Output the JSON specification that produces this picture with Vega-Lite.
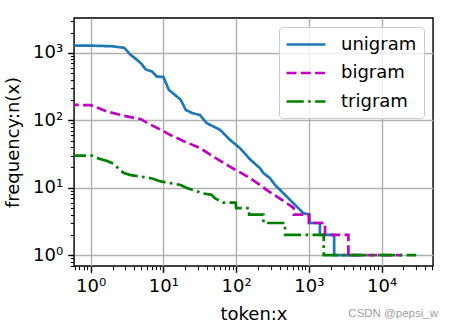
{
  "$schema": "https://vega.github.io/schema/vega-lite/v6.json",
  "width": 359,
  "height": 248,
  "autosize": {"type": "none"},
  "padding": {"left": 74, "top": 18, "right": 21, "bottom": 62},
  "background": "white",
  "title": {"text": "CSDN @pepsi_w", "orient": "bottom", "anchor": "end", "font": "Liberation Sans", "fontSize": 11.5, "fontWeight": "normal", "color": "#a0a0a0", "offset": -15, "dx": 5},
  "config": {
    "view": {"stroke": "black", "strokeWidth": 1.44},
    "font": "DejaVu Sans",
    "axis": {
      "domain": false,
      "labelFont": "DejaVu Sans",
      "labelFontSize": 18,
      "labelColor": "black",
      "tickColor": "black",
      "titleFont": "DejaVu Sans",
      "titleFontSize": 18,
      "titleFontWeight": "normal",
      "titleColor": "black",
      "gridColor": "#b0b0b0",
      "gridWidth": 1.44,
      "gridOpacity": 1,
      "labelOverlap": false,
      "labelFlush": false
    },
    "legend": {
      "orient": "top-right",
      "offset": 9,
      "fillColor": "rgba(255,255,255,0.8)",
      "strokeColor": "#cccccc",
      "strokeWidth": 1,
      "cornerRadius": 3.6,
      "padding": 7,
      "labelFont": "DejaVu Sans",
      "labelFontSize": 18,
      "labelColor": "black",
      "symbolType": "M-1.11,0H3.22",
      "symbolSize": 324,
      "symbolStrokeWidth": 2.7,
      "labelOffset": 34,
      "rowPadding": 8.5
    }
  },
  "data": {
    "values": [
      {"series": "unigram", "x": 0.5, "y": 1290},
      {"series": "unigram", "x": 1, "y": 1285},
      {"series": "unigram", "x": 2, "y": 1255},
      {"series": "unigram", "x": 2.9, "y": 1190},
      {"series": "unigram", "x": 3.5, "y": 950},
      {"series": "unigram", "x": 4.1, "y": 830},
      {"series": "unigram", "x": 5, "y": 690},
      {"series": "unigram", "x": 5.7, "y": 570},
      {"series": "unigram", "x": 7, "y": 530},
      {"series": "unigram", "x": 8.1, "y": 447},
      {"series": "unigram", "x": 10, "y": 440},
      {"series": "unigram", "x": 11.9, "y": 283},
      {"series": "unigram", "x": 14, "y": 245},
      {"series": "unigram", "x": 17.3, "y": 202},
      {"series": "unigram", "x": 20.3, "y": 143},
      {"series": "unigram", "x": 25, "y": 128},
      {"series": "unigram", "x": 31.9, "y": 120},
      {"series": "unigram", "x": 39.4, "y": 91},
      {"series": "unigram", "x": 60, "y": 72.5},
      {"series": "unigram", "x": 82, "y": 51.5},
      {"series": "unigram", "x": 113, "y": 38.7},
      {"series": "unigram", "x": 155, "y": 26.5},
      {"series": "unigram", "x": 213, "y": 19.5},
      {"series": "unigram", "x": 237, "y": 16.5},
      {"series": "unigram", "x": 292, "y": 13.9},
      {"series": "unigram", "x": 343, "y": 11},
      {"series": "unigram", "x": 446, "y": 8.3},
      {"series": "unigram", "x": 612, "y": 5.9},
      {"series": "unigram", "x": 840, "y": 4.2},
      {"series": "unigram", "x": 1020, "y": 4},
      {"series": "unigram", "x": 1021, "y": 3},
      {"series": "unigram", "x": 1420, "y": 3},
      {"series": "unigram", "x": 1421, "y": 2},
      {"series": "unigram", "x": 2230, "y": 2},
      {"series": "unigram", "x": 2231, "y": 1},
      {"series": "unigram", "x": 4580, "y": 1},
      {"series": "bigram", "x": 0.5, "y": 170},
      {"series": "bigram", "x": 1, "y": 168},
      {"series": "bigram", "x": 1.69, "y": 135},
      {"series": "bigram", "x": 2.87, "y": 117},
      {"series": "bigram", "x": 4.9, "y": 104},
      {"series": "bigram", "x": 6.7, "y": 86},
      {"series": "bigram", "x": 9.3, "y": 72},
      {"series": "bigram", "x": 12.3, "y": 61},
      {"series": "bigram", "x": 17.3, "y": 51.5},
      {"series": "bigram", "x": 31.9, "y": 38.7},
      {"series": "bigram", "x": 48.6, "y": 29},
      {"series": "bigram", "x": 82, "y": 20.6},
      {"series": "bigram", "x": 155, "y": 13.9},
      {"series": "bigram", "x": 213, "y": 11},
      {"series": "bigram", "x": 262, "y": 9.3},
      {"series": "bigram", "x": 363, "y": 7.4},
      {"series": "bigram", "x": 500, "y": 5.9},
      {"series": "bigram", "x": 620, "y": 5},
      {"series": "bigram", "x": 621, "y": 4},
      {"series": "bigram", "x": 1000, "y": 4},
      {"series": "bigram", "x": 1001, "y": 3},
      {"series": "bigram", "x": 1670, "y": 3},
      {"series": "bigram", "x": 1671, "y": 2},
      {"series": "bigram", "x": 3500, "y": 2},
      {"series": "bigram", "x": 3501, "y": 1},
      {"series": "bigram", "x": 19000, "y": 1},
      {"series": "trigram", "x": 0.5, "y": 30},
      {"series": "trigram", "x": 1.05, "y": 30},
      {"series": "trigram", "x": 1.3, "y": 27},
      {"series": "trigram", "x": 1.69, "y": 25},
      {"series": "trigram", "x": 2.09, "y": 22.6},
      {"series": "trigram", "x": 2.45, "y": 18.9},
      {"series": "trigram", "x": 2.87, "y": 16.5},
      {"series": "trigram", "x": 3.55, "y": 15.4},
      {"series": "trigram", "x": 5.4, "y": 14.4},
      {"series": "trigram", "x": 7, "y": 13.7},
      {"series": "trigram", "x": 9.2, "y": 12.4},
      {"series": "trigram", "x": 12.6, "y": 11.7},
      {"series": "trigram", "x": 17.3, "y": 11},
      {"series": "trigram", "x": 20.9, "y": 9.9},
      {"series": "trigram", "x": 27, "y": 9.1},
      {"series": "trigram", "x": 33.6, "y": 8.3},
      {"series": "trigram", "x": 46, "y": 7.85},
      {"series": "trigram", "x": 51, "y": 7},
      {"series": "trigram", "x": 67, "y": 6},
      {"series": "trigram", "x": 99, "y": 6},
      {"series": "trigram", "x": 100, "y": 5},
      {"series": "trigram", "x": 150, "y": 5},
      {"series": "trigram", "x": 151, "y": 4},
      {"series": "trigram", "x": 237, "y": 4},
      {"series": "trigram", "x": 238, "y": 3},
      {"series": "trigram", "x": 470, "y": 3},
      {"series": "trigram", "x": 471, "y": 2},
      {"series": "trigram", "x": 1600, "y": 2},
      {"series": "trigram", "x": 1601, "y": 1},
      {"series": "trigram", "x": 30000, "y": 1}
    ]
  },
  "layer": [
    {
      "mark": {"type": "line", "clip": true, "strokeWidth": 2.7, "strokeCap": "butt"},
      "encoding": {
        "x": {
          "field": "x", "type": "quantitative",
          "scale": {"type": "log", "domain": [0.59, 51000], "nice": false},
          "axis": {
            "values": [1, 10, 100, 1000, 10000],
            "labelExpr": "datum.value < 5 ? '10⁰' : datum.value < 50 ? '10¹' : datum.value < 500 ? '10²' : datum.value < 5000 ? '10³' : '10⁴'",
            "title": "token:x",
            "grid": true,
            "tickSize": 6.3,
            "tickWidth": 1.44,
            "labelPadding": 5,
            "titlePadding": 10
          }
        },
        "y": {
          "field": "y", "type": "quantitative",
          "scale": {"type": "log", "domain": [0.69, 3300], "nice": false},
          "axis": {
            "values": [1, 10, 100, 1000],
            "labelExpr": "datum.value < 5 ? '10⁰' : datum.value < 50 ? '10¹' : datum.value < 500 ? '10²' : '10³'",
            "title": "frequency:n(x)",
            "grid": true,
            "tickSize": 6.3,
            "tickWidth": 1.44,
            "labelPadding": 5,
            "titlePadding": 10
          }
        },
        "color": {
          "field": "series", "type": "nominal",
          "sort": ["unigram", "bigram", "trigram"],
          "scale": {"domain": ["unigram", "bigram", "trigram"], "range": ["#1f77b4", "#bf00bf", "#008000"]},
          "legend": {"title": null}
        },
        "strokeDash": {
          "field": "series", "type": "nominal",
          "sort": ["unigram", "bigram", "trigram"],
          "scale": {"domain": ["unigram", "bigram", "trigram"], "range": [[1, 0], [10, 4.3], [17.3, 4.3, 2.7, 4.3]]},
          "legend": {"title": null}
        }
      }
    },
    {
      "mark": {"type": "point", "opacity": 0, "clip": true},
      "encoding": {
        "x": {
          "field": "x", "type": "quantitative",
          "scale": {"type": "log", "domain": [0.59, 51000], "nice": false},
          "axis": {
            "orient": "bottom",
            "values": [0.6, 0.7, 0.8, 0.9, 2, 3, 4, 5, 6, 7, 8, 9, 20, 30, 40, 50, 60, 70, 80, 90, 200, 300, 400, 500, 600, 700, 800, 900, 2000, 3000, 4000, 5000, 6000, 7000, 8000, 9000, 20000, 30000, 40000, 50000],
            "labels": false, "grid": false, "title": null,
            "tickSize": 3.6, "tickWidth": 1.08
          }
        },
        "y": {
          "field": "y", "type": "quantitative",
          "scale": {"type": "log", "domain": [0.69, 3300], "nice": false},
          "axis": {
            "orient": "left",
            "values": [0.7, 0.8, 0.9, 2, 3, 4, 5, 6, 7, 8, 9, 20, 30, 40, 50, 60, 70, 80, 90, 200, 300, 400, 500, 600, 700, 800, 900, 2000, 3000],
            "labels": false, "grid": false, "title": null,
            "tickSize": 3.6, "tickWidth": 1.08
          }
        }
      }
    }
  ],
  "resolve": {"axis": {"x": "independent", "y": "independent"}}
}
